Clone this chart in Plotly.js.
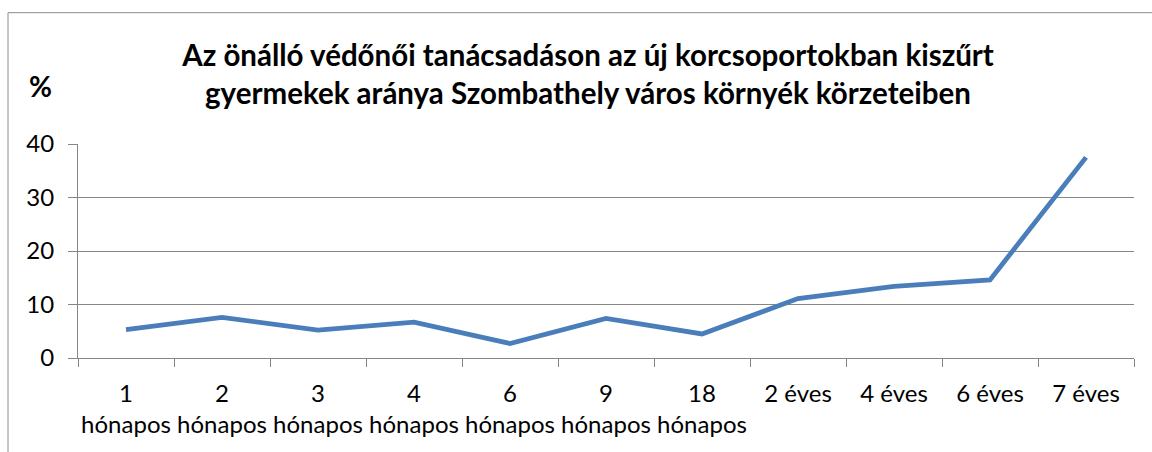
<!DOCTYPE html>
<html>
<head>
<meta charset="utf-8">
<script src="https://cdn.plot.ly/plotly-3.0.1.min.js"></script>
<style>
html,body{margin:0;padding:0;background:#fff;}
#chart{width:1152px;height:452px;}
</style>
</head>
<body>
<div id="chart"></div>
<script>
const categories = ["1<br>hónapos","2<br>hónapos","3<br>hónapos","4<br>hónapos","6<br>hónapos","9<br>hónapos","18<br>hónapos","2 éves","4 éves","6 éves","7 éves"];
const values = [5.3, 7.6, 5.2, 6.7, 2.7, 7.4, 4.5, 11.1, 13.4, 14.6, 37.5];
const yTicks = [0, 10, 20, 30, 40];
const titleText = "Az önálló védőnői tanácsadáson az új korcsoportokban kiszűrt<br>gyermekek aránya Szombathely város környék körzeteiben";
const yUnit = "%";

const gray = "#868686";
const trace = {
  x: categories,
  y: values,
  type: "scatter",
  mode: "lines",
  line: {color: "#4a7ebb", width: 4.8},
  hoverinfo: "x+y"
};

const L = 78, R = 1134, T = 144, B = 358.3;
const px2x = p => (p - L) / (R - L);
const px2y = p => (B - p) / (B - T);

const layout = {
  width: 1152,
  height: 452,
  margin: {l: L, r: 1152 - R, t: T, b: 452 - B},
  paper_bgcolor: "#fff",
  plot_bgcolor: "#fff",
  font: {family: "Lato, 'Open Sans', sans-serif", color: "#000", size: 24},
  showlegend: false,
  title: {
    text: titleText,
    font: {family: "Lato, sans-serif", size: 29.5, color: "#000", weight: "bold"},
    x: px2x(588), xanchor: "center",
    y: 1 - 66 / 452, yanchor: "middle",
    xref: "paper", yref: "container"
  },
  xaxis: {
    type: "category",
    range: [-0.5, 10.5],
    showline: true, linecolor: gray, linewidth: 1,
    ticks: "outside", tickson: "boundaries", ticklen: 8, tickcolor: gray, tickwidth: 1,
    showgrid: false,
    tickangle: 0,
    tickfont: {size: 24, family: "Lato, sans-serif"},
    ticklabelstandoff: 14,
    zeroline: false,
    fixedrange: true
  },
  yaxis: {
    range: [0, 40],
    tickvals: yTicks,
    ticktext: yTicks.map(String),
    showline: true, linecolor: gray, linewidth: 1,
    ticks: "outside", ticklen: 9, tickcolor: gray, tickwidth: 1,
    showgrid: true, gridcolor: gray, gridwidth: 1,
    zeroline: false,
    tickfont: {size: 24, family: "Lato, sans-serif"},
    ticklabelstandoff: 9,
    fixedrange: true
  },
  annotations: [{
    text: "<b>" + yUnit + "</b>",
    xref: "paper", yref: "paper",
    x: px2x(40), y: px2y(86),
    xanchor: "center", yanchor: "middle",
    showarrow: false,
    font: {size: 28, family: "Lato, sans-serif", color: "#000"}
  }],
  shapes: [
    {type: "line", xref: "paper", yref: "paper", x0: px2x(8), x1: px2x(8), y0: px2y(460), y1: px2y(12.5), line: {color: "#8c8c8c", width: 1}},
    {type: "line", xref: "paper", yref: "paper", x0: px2x(8), x1: px2x(1160), y0: px2y(12.5), y1: px2y(12.5), line: {color: "#8c8c8c", width: 1}}
  ]
};

Plotly.newPlot("chart", [trace], layout, {displayModeBar: false, staticPlot: true});
</script>
</body>
</html>
